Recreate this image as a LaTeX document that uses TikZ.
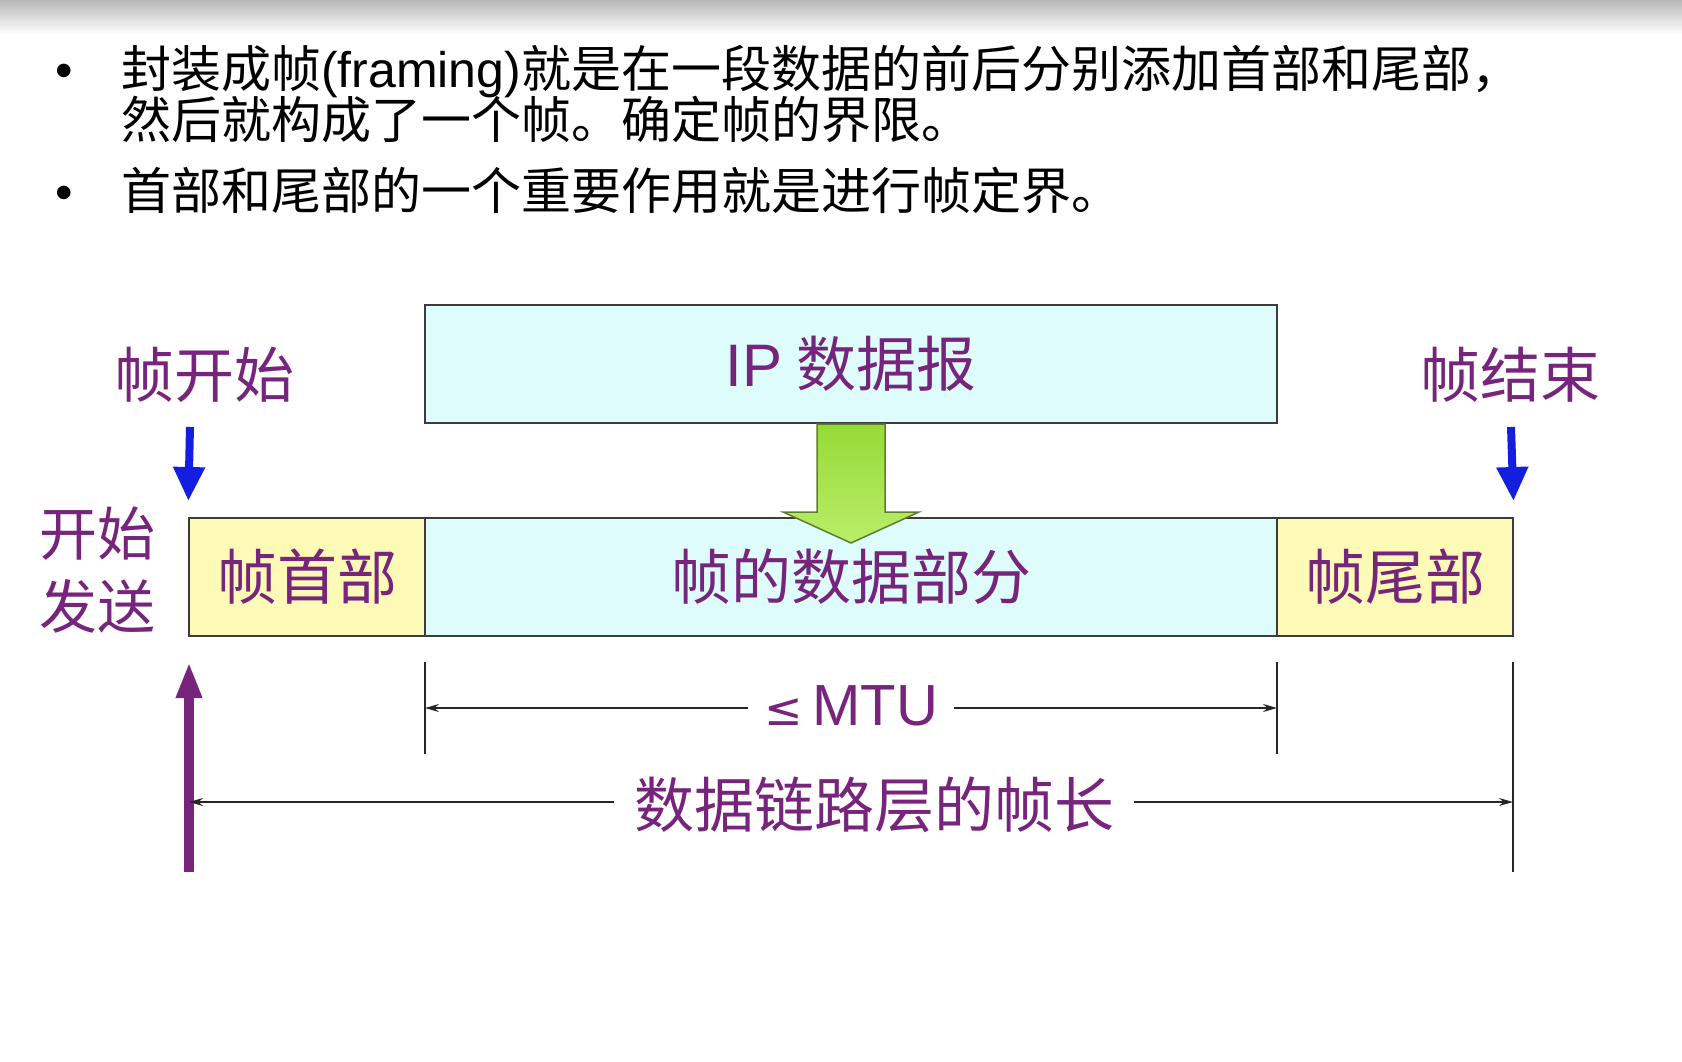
\documentclass[tikz,border=0pt]{standalone}
\usepackage{fontspec}
\setmainfont{Noto Sans CJK SC}
\newfontfamily\latinsans{Liberation Sans}
\newfontfamily\symbolfont{DejaVu Sans}
\usetikzlibrary{arrows.meta,calc}
\definecolor{cellcyan}{RGB}{222,252,252}
\definecolor{cellyellow}{RGB}{252,250,182}
\definecolor{cellline}{RGB}{60,60,60}
\definecolor{labelpurple}{RGB}{118,36,124}
\definecolor{markblue}{RGB}{20,30,225}
\definecolor{arrowgreen}{RGB}{150,218,55}
\definecolor{arrowgreenlight}{RGB}{185,238,105}
\definecolor{arrowedge}{RGB}{95,125,45}

\begin{document}
\begin{tikzpicture}[x=1pt,y=-1pt,
  cell/.style={draw=cellline,line width=2pt,minimum height=118pt,inner sep=0pt,
    text=labelpurple,font=\fontsize{60}{72}\selectfont},
  datacell/.style={cell,fill=cellcyan},
  endcell/.style={cell,fill=cellyellow},
  bigtext/.style={text=labelpurple,font=\fontsize{60}{72}\selectfont,inner sep=0pt},
  bullettext/.style={anchor=base west,inner sep=0pt,font=\fontsize{50}{60}\selectfont},
  tick/.style={line width=1.6pt,draw=black!85},
  dimline/.style={line width=1.6pt,draw=black!85,-{Stealth[length=14pt,width=8pt]}},
  bluemark/.style={draw=markblue,line width=8pt,-{Triangle[length=34pt,width=30pt]}},
  sendmark/.style={draw=labelpurple,line width=10pt,-{Triangle[length=36pt,width=24pt]}},
]
\useasboundingbox (0,0) rectangle (1682,1062);
\fill[white] (0,0) rectangle (1682,1062);
\shade[top color=black!28,bottom color=white] (0,0) rectangle (1682,34);

% bullet points
\node[bullettext] (b1) at (55,88) {\latinsans •};
\node[bullettext] (t1) at (121,88) {封装成帧{\latinsans (framing)}就是在一段数据的前后分别添加首部和尾部，};
\node[bullettext] (t2) at (121,139) {然后就构成了一个帧。确定帧的界限。};
\node[bullettext] (b2) at (55,209) {\latinsans •};
\node[bullettext] (t3) at (121,209) {首部和尾部的一个重要作用就是进行帧定界。};

% IP datagram and the frame
\node[datacell,minimum width=852pt] (ip) at (851,364) {{\latinsans IP} 数据报};
\node[endcell,minimum width=236pt] (head) at (307,577) {帧首部};
\node[datacell,minimum width=852pt] (data) at (851,577) {帧的数据部分};
\node[endcell,minimum width=236pt] (tail) at (1395,577) {帧尾部};

% encapsulation arrow
\draw[arrowedge,line width=1.5pt,top color=arrowgreen,bottom color=arrowgreenlight]
  ($(ip.south)+(-34,0)$) -- ($(ip.south)+(34,0)$) -- ($(ip.south)+(34,88)$)
  -- ($(ip.south)+(68,88)$) -- ($(ip.south)+(0,119)$) -- ($(ip.south)+(-68,88)$)
  -- ($(ip.south)+(-34,88)$) -- cycle;

% frame start / end marks
\node[bigtext] (fs) at (204,375) {帧开始};
\node[bigtext] (fe) at (1510,375) {帧结束};
\coordinate (fsTop) at (190,427);
\coordinate (feTop) at (1511,427);
\draw[bluemark,shorten >=16pt] (fsTop) -- (head.north west);
\draw[bluemark,shorten >=16pt] (feTop) -- (tail.north east);

% start of transmission
\node[bigtext,align=center,font=\fontsize{58}{73}\selectfont] (send) at (97,570) {开始\\发送};
\coordinate (sendFoot) at (189,872);
\coordinate (sendTip) at (189,662);
\draw[sendmark] (sendFoot) -- (sendTip);

% MTU dimension
\coordinate (mtuTopL) at (425,662);
\coordinate (mtuBotL) at (425,754);
\coordinate (mtuTopR) at (1277,662);
\coordinate (mtuBotR) at (1277,754);
\draw[tick] (mtuTopL) -- (mtuBotL);
\draw[tick] (mtuTopR) -- (mtuBotR);
\coordinate (mtuL) at (425,708);
\coordinate (mtuR) at (1277,708);
\node[bigtext,inner xsep=16pt,font=\latinsans\fontsize{58}{70}\selectfont] (mtu) at (851,706)
  {{\symbolfont\fontsize{46}{56}\selectfont ≤}\,MTU};
\draw[dimline] (mtu.west |- mtuL) -- (mtuL);
\draw[dimline] (mtu.east |- mtuR) -- (mtuR);

% frame length dimension
\coordinate (lenTopR) at (1513,662);
\coordinate (lenBotR) at (1513,872);
\draw[tick] (lenTopR) -- (lenBotR);
\coordinate (lenL) at (189,802);
\coordinate (lenR) at (1513,802);
\node[bigtext,inner xsep=20pt] (flen) at (874,805) {数据链路层的帧长};
\draw[dimline] (flen.west |- lenL) -- (lenL);
\draw[dimline] (flen.east |- lenR) -- (lenR);
\end{tikzpicture}
\end{document}
